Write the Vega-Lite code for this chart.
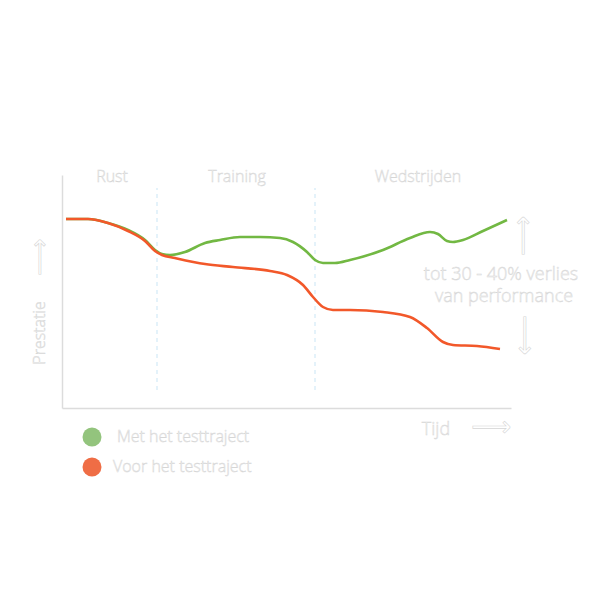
{
  "$schema": "https://vega.github.io/schema/vega-lite/v6.json",
  "background": "white",
  "autosize": "none",
  "padding": {"left": 62, "top": 175, "right": 89, "bottom": 192},
  "width": 449,
  "height": 233,
  "config": {
    "view": {"stroke": null},
    "axis": {"labels": false, "ticks": false, "grid": false, "title": null, "domainColor": "#dcdcdc", "domainWidth": 1.5},
    "text": {"font": "Open Sans", "fontWeight": 300, "fill": "white", "stroke": "#d6d6d6", "strokeWidth": 0.5, "fontSize": 16}
  },
  "datasets": {
    "groen": [
      {"t": 4, "p": 189}, {"t": 26, "p": 189}, {"t": 46, "p": 185}, {"t": 66, "p": 178},
      {"t": 83, "p": 168}, {"t": 93, "p": 158}, {"t": 100, "p": 154}, {"t": 108, "p": 153},
      {"t": 123, "p": 156}, {"t": 143, "p": 165}, {"t": 158, "p": 168}, {"t": 178, "p": 171},
      {"t": 198, "p": 171}, {"t": 218, "p": 170}, {"t": 231, "p": 166}, {"t": 245, "p": 156},
      {"t": 253, "p": 148}, {"t": 261, "p": 145}, {"t": 273, "p": 145}, {"t": 288, "p": 148},
      {"t": 321, "p": 158}, {"t": 348, "p": 170}, {"t": 368, "p": 176}, {"t": 376, "p": 174},
      {"t": 385, "p": 167}, {"t": 391, "p": 166}, {"t": 401, "p": 168}, {"t": 421, "p": 177},
      {"t": 445, "p": 188}
    ],
    "rood": [
      {"t": 4, "p": 189}, {"t": 26, "p": 189}, {"t": 46, "p": 185}, {"t": 66, "p": 177},
      {"t": 83, "p": 167}, {"t": 93, "p": 157}, {"t": 100, "p": 153}, {"t": 113, "p": 150},
      {"t": 143, "p": 144}, {"t": 171, "p": 141}, {"t": 208, "p": 137}, {"t": 225, "p": 133},
      {"t": 241, "p": 123}, {"t": 251, "p": 111}, {"t": 261, "p": 101}, {"t": 271, "p": 98},
      {"t": 288, "p": 98}, {"t": 321, "p": 96}, {"t": 348, "p": 91}, {"t": 365, "p": 80},
      {"t": 381, "p": 66}, {"t": 391, "p": 63}, {"t": 415, "p": 62}, {"t": 438, "p": 59}
    ],
    "fases": [
      {"t": 95, "p1": 18, "p2": 220},
      {"t": 253, "p1": 18, "p2": 220}
    ],
    "labels": [
      {"t": 50, "p": 231, "label": "Rust", "size": 16, "angle": 0},
      {"t": 175, "p": 231, "label": "Training", "size": 16, "angle": 0},
      {"t": 356, "p": 231, "label": "Wedstrijden", "size": 16, "angle": 0},
      {"t": 439, "p": 133, "label": "tot 30 - 40% verlies", "size": 18, "angle": 0},
      {"t": 442, "p": 111, "label": "van performance", "size": 18, "angle": 0},
      {"t": -22, "p": 75, "label": "Prestatie", "size": 16, "angle": 270},
      {"t": 374, "p": -22, "label": "Tijd", "size": 18, "angle": 0}
    ],
    "pijlen": [
      {"t": 462, "p": 172, "size": 28, "angle": 270},
      {"t": 462, "p": 73, "size": 28, "angle": 90},
      {"t": -22, "p": 151, "size": 26, "angle": 270},
      {"t": 429, "p": -20, "size": 28, "angle": 0}
    ],
    "legenda": [
      {"t": 30, "p": -29, "lt": 55, "reeks": "Met het testtraject"},
      {"t": 30, "p": -59, "lt": 51, "reeks": "Voor het testtraject"}
    ]
  },
  "layer": [
    {
      "data": {"name": "fases"},
      "mark": {"type": "rule", "color": "#d3e9f7", "strokeDash": [4, 4], "strokeWidth": 1.2},
      "encoding": {
        "x": {"field": "t", "type": "quantitative", "scale": {"domain": [0, 449], "nice": false, "zero": false}, "axis": {"orient": "bottom"}},
        "y": {"field": "p1", "type": "quantitative", "scale": {"domain": [0, 233], "nice": false, "zero": false}, "axis": {"orient": "left"}},
        "y2": {"field": "p2"}
      }
    },
    {
      "data": {"name": "groen"},
      "mark": {"type": "line", "color": "#72b843", "strokeWidth": 2.6, "interpolate": "monotone"},
      "encoding": {
        "x": {"field": "t", "type": "quantitative"},
        "y": {"field": "p", "type": "quantitative"}
      }
    },
    {
      "data": {"name": "rood"},
      "mark": {"type": "line", "color": "#f2582a", "strokeWidth": 2.6, "interpolate": "monotone"},
      "encoding": {
        "x": {"field": "t", "type": "quantitative"},
        "y": {"field": "p", "type": "quantitative"}
      }
    },
    {
      "data": {"name": "legenda"},
      "mark": {"type": "circle", "size": 360, "opacity": 1},
      "encoding": {
        "x": {"field": "t", "type": "quantitative"},
        "y": {"field": "p", "type": "quantitative"},
        "color": {"field": "reeks", "type": "nominal", "scale": {"domain": ["Met het testtraject", "Voor het testtraject"], "range": ["#93c47d", "#ef6d45"]}, "legend": null}
      }
    },
    {
      "data": {"name": "legenda"},
      "mark": {"type": "text", "align": "left", "baseline": "middle", "fontSize": 16},
      "encoding": {
        "x": {"field": "lt", "type": "quantitative"},
        "y": {"field": "p", "type": "quantitative"},
        "text": {"field": "reeks"}
      }
    },
    {
      "data": {"name": "labels"},
      "mark": {"type": "text", "align": "center", "baseline": "middle"},
      "encoding": {
        "x": {"field": "t", "type": "quantitative"},
        "y": {"field": "p", "type": "quantitative"},
        "text": {"field": "label"},
        "size": {"field": "size", "type": "quantitative", "scale": null},
        "angle": {"field": "angle", "type": "quantitative", "scale": null}
      }
    },
    {
      "data": {"name": "pijlen"},
      "mark": {"type": "text", "align": "center", "baseline": "middle", "font": "DejaVu Sans", "fontWeight": "normal", "text": "⟶", "strokeWidth": 0.6},
      "encoding": {
        "x": {"field": "t", "type": "quantitative"},
        "y": {"field": "p", "type": "quantitative"},
        "size": {"field": "size", "type": "quantitative", "scale": null},
        "angle": {"field": "angle", "type": "quantitative", "scale": null}
      }
    }
  ]
}
